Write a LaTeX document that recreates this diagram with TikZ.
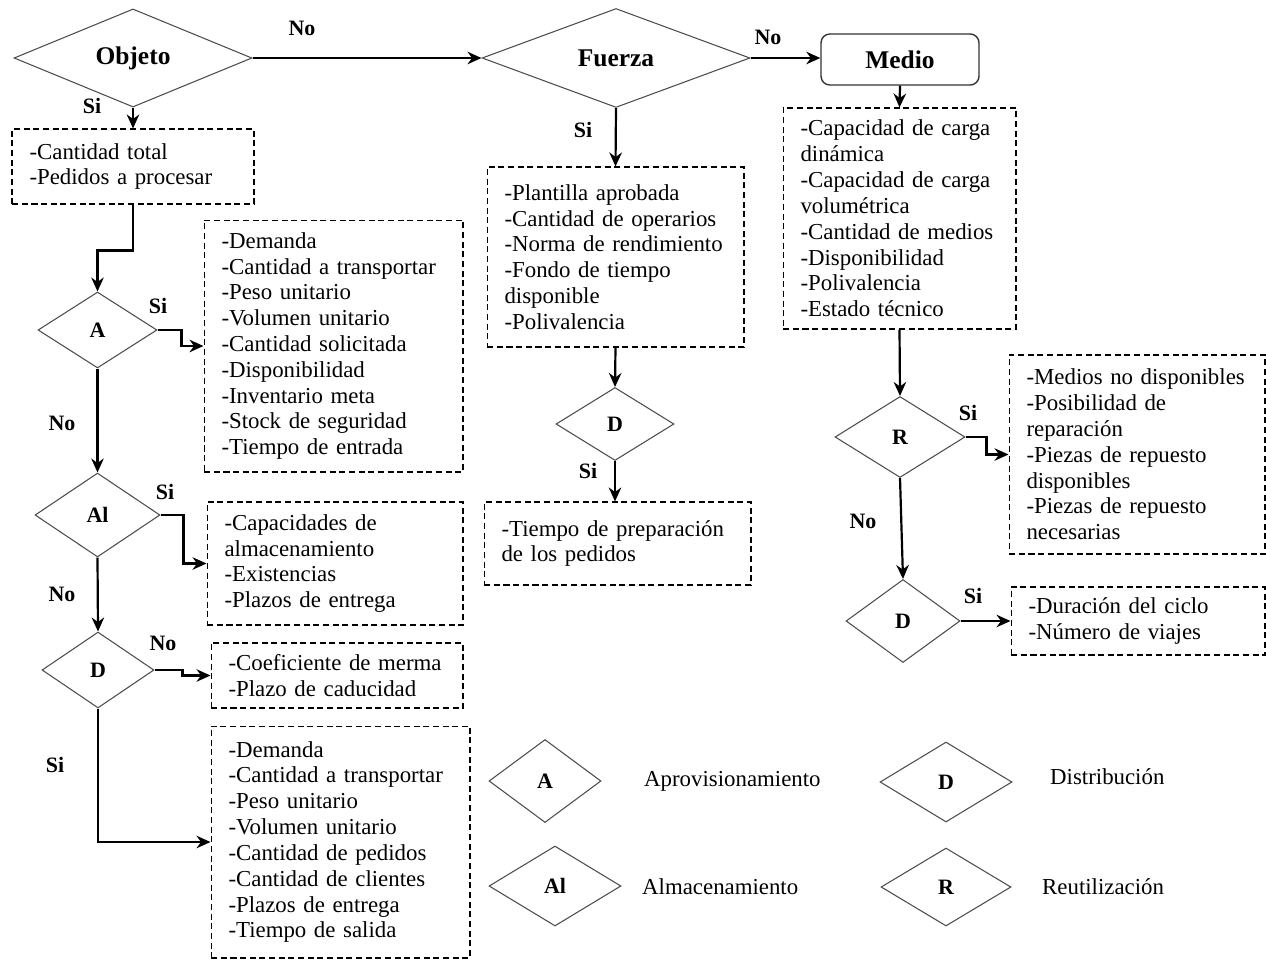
\documentclass[tikz,border=0pt]{standalone}
\usepackage{fontspec}
\setmainfont{Liberation Serif}
\usepackage{tikz}
\usetikzlibrary{shapes.geometric}
\usetikzlibrary{arrows.meta}

\tikzset{
    decision/.style={diamond, draw=black!70, line width=0.6pt, inner sep=0pt, font=\fontsize{12.5}{14}\selectfont\bfseries},
    titlefont/.style={font=\fontsize{14.5}{16}\selectfont\bfseries},
    infobox/.style={draw, dash pattern=on 3.5pt off 2pt, line width=0.6pt, align=left, inner xsep=0.35cm, inner ysep=0pt, font=\fontsize{13}{14.7}\selectfont},
    flow/.style={-{Stealth[length=2.8mm,width=2.5mm]}, line width=1.25pt},
    answer/.style={font=\fontsize{12.5}{14}\selectfont\bfseries},
    legendtext/.style={anchor=west, font=\fontsize{13}{15}\selectfont}
}

\begin{document}
\begin{tikzpicture}[x=0.02cm, y=-0.02cm]
        \useasboundingbox (0,0) rectangle (1266,960);

        % top row
        \node[decision, titlefont, minimum width=4.76cm, minimum height=1.9cm] (objeto) at (133,58) {Objeto};
        \node[decision, titlefont, minimum width=5.36cm, minimum height=1.98cm] (fuerza) at (616,58) {Fuerza};
        \node[draw=black!80, line width=0.8pt, rounded corners=5pt, titlefont, minimum width=3.16cm, minimum height=1.02cm] (medio) at (900,59.5) {Medio};

        % objeto branch
        \node[infobox, text width=4.14cm, minimum height=1.5cm] (infoObj) at (133,166.5) {-Cantidad total\\-Pedidos a procesar};
        \node[decision, minimum width=2.38cm, minimum height=1.52cm] (dA) at (97.5,330) {A};
        \node[infobox, text width=4.48cm, minimum height=5.04cm] (infoA) at (333.5,346) {-Demanda\\-Cantidad a transportar\\-Peso unitario\\-Volumen unitario\\-Cantidad solicitada\\-Disponibilidad\\-Inventario meta\\-Stock de seguridad\\-Tiempo de entrada};
        \node[decision, minimum width=2.5cm, minimum height=1.68cm] (dAl) at (97.5,515) {Al};
        \node[infobox, text width=4.42cm, minimum height=2.46cm] (infoAl) at (335,563.5) {-Capacidades de\\almacenamiento\\-Existencias\\-Plazos de entrega};
        \node[decision, minimum width=2.24cm, minimum height=1.52cm] (dD) at (98,670) {D};
        \node[infobox, text width=4.34cm, minimum height=1.3cm] (infoD) at (337,675.5) {-Coeficiente de merma\\-Plazo de caducidad};
        \node[infobox, text width=4.48cm, minimum height=4.64cm] (infoDs) at (340.5,842) {-Demanda\\-Cantidad a transportar\\-Peso unitario\\-Volumen unitario\\-Cantidad de pedidos\\-Cantidad de clientes\\-Plazos de entrega\\-Tiempo de salida};

        % fuerza branch
        \node[infobox, text width=4.44cm, minimum height=3.6cm] (infoF) at (615.5,257) {-Plantilla aprobada\\-Cantidad de operarios\\-Norma de rendimiento\\-Fondo de tiempo\\disponible\\-Polivalencia};
        \node[decision, minimum width=2.36cm, minimum height=1.46cm] (dDF) at (615,424) {D};
        \node[infobox, text width=4.64cm, minimum height=1.66cm] (infoFD) at (617.5,543.5) {-Tiempo de preparación\\de los pedidos};

        % medio branch
        \node[infobox, text width=3.96cm, minimum height=4.42cm] (infoM) at (899.5,218.5) {-Capacidad de carga\\dinámica\\-Capacidad de carga\\volumétrica\\-Cantidad de medios\\-Disponibilidad\\-Polivalencia\\-Estado técnico};
        \node[decision, minimum width=2.6cm, minimum height=1.62cm] (dR) at (900,437) {R};
        \node[infobox, text width=4.42cm, minimum height=3.98cm] (infoR) at (1137,454.5) {-Medios no disponibles\\-Posibilidad de\\reparación\\-Piezas de repuesto\\disponibles\\-Piezas de repuesto\\necesarias};
        \node[decision, minimum width=2.28cm, minimum height=1.66cm] (dDM) at (903,621) {D};
        \node[infobox, text width=4.38cm, minimum height=1.36cm] (infoDM) at (1138,621) {-Duración del ciclo\\-Número de viajes};

        % arrows
        \draw[flow] (objeto.east) -- (fuerza.west);
        \draw[flow] (fuerza.east) -- (fuerza.east -| medio.west);
        \draw[flow] (objeto.south) -- (infoObj.north);
        \draw[flow] (infoObj.south) -- ++(0,46) -| (dA.north);
        \draw[flow] (dA.east) -- ++(24,0) |- (infoA.west);
        \draw[flow] (dA.south) -- (dAl.north);
        \draw[flow] (dAl.east) -- ++(23,0) |- (infoAl.west);
        \draw[flow] (dAl.south) -- (dD.north);
        \draw[flow] (dD.east) -- ++(28,0) |- (infoD.west);
        \draw[flow] (dD.south) |- (infoDs.west);
        \draw[flow] (fuerza.south) -- (infoF.north);
        \draw[flow] (infoF.south) -- (dDF.north);
        \draw[flow] (dDF.south) -- (dDF.south |- infoFD.north);
        \draw[flow] (medio.south) -- (infoM.north);
        \draw[flow] (infoM.south) -- (dR.north);
        \draw[flow] (dR.east) -- ++(21,0) |- (infoR.west);
        \draw[flow] (dR.south) -- (dDM.north);
        \draw[flow] (dDM.east) -- (infoDM.west);

        % answers
        \node[answer] (noObj) at (302,28) {No};
        \node[answer] (siObj) at (92,106) {Si};
        \node[answer] (noF) at (768,37) {No};
        \node[answer] (siF) at (583,130) {Si};
        \node[answer] (siA) at (158,306) {Si};
        \node[answer] (noA) at (62,423) {No};
        \node[answer] (siAl) at (165,492) {Si};
        \node[answer] (noAl) at (62,594) {No};
        \node[answer] (noD) at (163,643) {No};
        \node[answer] (siD) at (55,765) {Si};
        \node[answer] (siDF) at (588,471) {Si};
        \node[answer] (siR) at (968,413) {Si};
        \node[answer] (noR) at (863,521) {No};
        \node[answer] (siDM) at (973,596) {Si};

        % legend
        \node[decision, minimum width=2.24cm, minimum height=1.66cm] (legA) at (545,781) {A};
        \node[decision, minimum width=2.64cm, minimum height=1.6cm] (legAl) at (555,886) {Al};
        \node[decision, minimum width=2.64cm, minimum height=1.6cm] (legD) at (946,782) {D};
        \node[decision, minimum width=2.6cm, minimum height=1.56cm] (legR) at (946,887) {R};
        \node[legendtext] (txtA) at (638,781) {Aprovisionamiento};
        \node[legendtext] (txtAl) at (636,887) {Almacenamiento};
        \node[legendtext] (txtD) at (1044,777) {Distribución};
        \node[legendtext] (txtR) at (1036,887) {Reutilización};
    \end{tikzpicture}
\end{document}
